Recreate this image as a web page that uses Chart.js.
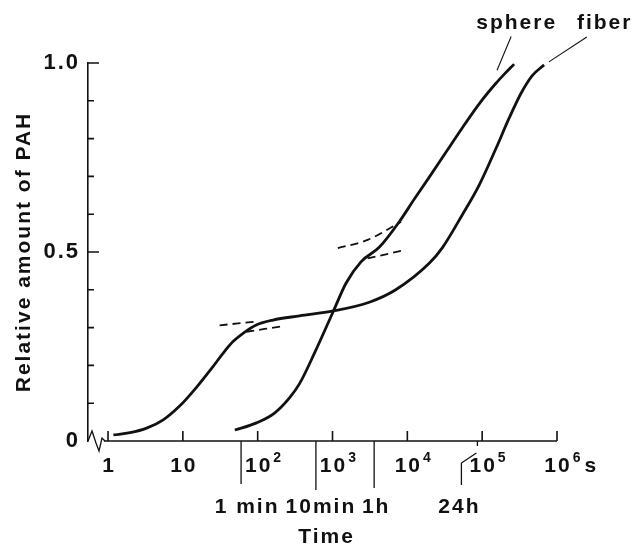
<!DOCTYPE html>
<html>
<head>
<meta charset="utf-8">
<script src="https://cdn.jsdelivr.net/npm/chart.js@4.4.1/dist/chart.umd.min.js"></script>
<style>
  html, body { margin: 0; padding: 0; background: #fff; }
  #wrap { width: 636px; height: 545px; }
</style>
</head>
<body>
<div id="wrap"><canvas id="chart" width="636" height="545"></canvas></div>
<script>
// time in seconds (log axis) vs relative amount of PAH
const fiberTime  = [1.18, 1.97, 3.28, 5.47, 9.12, 15.2, 25.3, 34.4, 46.8, 63.7, 95.9, 160, 362, 1030, 3100, 7000, 19600, 29300, 54100, 91200, 153800, 229000, 331000, 464000, 671000];
const fiberValue = [0.016, 0.022, 0.034, 0.056, 0.093, 0.142, 0.197, 0.232, 0.263, 0.285, 0.307, 0.32, 0.331, 0.344, 0.367, 0.40, 0.47, 0.511, 0.598, 0.677, 0.775, 0.854, 0.92, 0.966, 0.995];

const sphereTime  = [49.5, 96.6, 168, 266, 361, 576, 1030, 1520, 2400, 4240, 7800, 12400, 19650, 33100, 54100, 91200, 153800, 196500, 267000];
const sphereValue = [0.029, 0.048, 0.074, 0.114, 0.151, 0.233, 0.344, 0.418, 0.474, 0.513, 0.58, 0.64, 0.698, 0.765, 0.828, 0.892, 0.947, 0.97, 0.997];

// dashed tangent extensions at the two bends
const fiberPlateauTime = [31, 96],       fiberPlateauValue = [0.306, 0.316];
const fiberRiseTime    = [70.5, 218],    fiberRiseValue    = [0.289, 0.304];
const sphereUpperTime  = [1180, 2950, 8260], sphereUpperValue = [0.51, 0.532, 0.58];
const sphereLowerTime  = [2950, 9100],   sphereLowerValue  = [0.483, 0.505];

const decadeTicks = [1, 10, 100, 1000, 1e4, 1e5, 1e6];
const decadeBase  = ['1', '10', '10', '10', '10', '10', '10'];
const decadeExp   = ['', '', '2', '3', '4', '5', '6'];
const decadeUnit  = ['', '', '', '', '', '', 's'];

const yTicks = [0, 0.5, 1.0];
const yTickLabels = ['0', '0.5', '1.0'];
const yMinorTicks = [0.1, 0.2, 0.3, 0.4, 0.6, 0.7, 0.8, 0.9];

const timeMarks = [60, 600, 3600, 86400];
const timeMarkLabels = ['1 min', '10min', '1h', '24h'];

const ink = '#111';
const fam = '"Liberation Sans", Arial, sans-serif';
const mainFont = 'bold 21px ' + fam;
const supFont = 'bold 14px ' + fam;

const pts = (xs, ys) => xs.map((t, i) => ({x: t, y: ys[i]}));

function solid(data) {
  return { data, borderColor: ink, borderWidth: 2.8, pointRadius: 0,
           showLine: true, cubicInterpolationMode: 'monotone', clip: false };
}
function dashed(data) {
  return { data, borderColor: ink, borderWidth: 1.8, borderDash: [8, 5], pointRadius: 0,
           showLine: true, tension: 0.3, clip: false };
}

const annotate = {
  id: 'annotate',
  beforeDraw(chart) { chart.ctx.letterSpacing = '2px'; },
  afterDraw(chart) {
    const {ctx, chartArea: a, scales: {x, y}} = chart;
    const y0 = y.getPixelForValue(0);
    ctx.save();
    ctx.letterSpacing = '2px';
    ctx.strokeStyle = ink;
    ctx.fillStyle = ink;
    ctx.lineWidth = 1.6;

    // x axis line after the break, ticks pointing inward
    ctx.beginPath();
    ctx.moveTo(x.getPixelForValue(0.88), y0);
    ctx.lineTo(x.getPixelForValue(1e6), y0);
    decadeTicks.forEach(v => {
      const px = x.getPixelForValue(v);
      ctx.moveTo(px, y0); ctx.lineTo(px, y0 - 10);
    });
    yMinorTicks.forEach(v => {
      const py = y.getPixelForValue(v);
      ctx.moveTo(a.left, py); ctx.lineTo(a.left + 6, py);
    });
    [0.5, 1.0].forEach(v => {
      const py = y.getPixelForValue(v);
      ctx.moveTo(a.left, py); ctx.lineTo(a.left + 11, py);
    });
    ctx.stroke();

    // axis break mark
    ctx.lineWidth = 1.3;
    ctx.beginPath();
    [[0, 0], [4, -10], [8, 2], [11, 10], [14, -3], [17, 0]].forEach(([dx, dy], i) => {
      if (i === 0) ctx.moveTo(a.left + dx, y0 + dy); else ctx.lineTo(a.left + dx, y0 + dy);
    });
    ctx.stroke();

    // decade labels with exponents
    ctx.textBaseline = 'alphabetic';
    ctx.textAlign = 'left';
    decadeTicks.forEach((v, i) => {
      const px = x.getPixelForValue(v);
      ctx.font = mainFont;
      const w = ctx.measureText(decadeBase[i]).width;
      const left = px - (w - 2) / 2;
      ctx.fillText(decadeBase[i], left, y0 + 31);
      let cx = left + w + 1;
      if (decadeExp[i]) {
        ctx.font = supFont;
        ctx.fillText(decadeExp[i], cx, y0 + 21);
        cx += ctx.measureText(decadeExp[i]).width + 2;
      }
      if (decadeUnit[i]) {
        ctx.font = mainFont;
        ctx.fillText(decadeUnit[i], cx, y0 + 31);
      }
    });

    // clock-time marks below the axis
    ctx.lineWidth = 1.3;
    const markDepth = [43, 49, 47, 44];
    const labelShift = [5, 4, 1, -19];
    ctx.beginPath();
    timeMarks.forEach((t, i) => {
      const px = x.getPixelForValue(t);
      if (i === 3) {
        ctx.moveTo(px, y0); ctx.lineTo(px, y0 + 5);
        ctx.moveTo(px - 1, y0 + 12); ctx.lineTo(px - 16, y0 + 22); ctx.lineTo(px - 16, y0 + markDepth[i]);
      } else {
        ctx.moveTo(px, y0); ctx.lineTo(px, y0 + markDepth[i]);
      }
    });
    ctx.stroke();
    ctx.font = mainFont;
    ctx.textAlign = 'center';
    timeMarks.forEach((t, i) => {
      const px = x.getPixelForValue(t);
      ctx.fillText(timeMarkLabels[i], px + labelShift[i] + 1, y0 + 72);
    });

    // axis titles
    ctx.textBaseline = 'middle';
    ctx.fillText('Time', (a.left + a.right) / 2 + 4, y0 + 96);
    ctx.save();
    ctx.translate(24, (a.top + a.bottom) / 2);
    ctx.rotate(-Math.PI / 2);
    ctx.fillText('Relative amount of PAH', 0, 0);
    ctx.restore();

    // curve labels with leader lines (anchors in data units)
    const tags = [
      {text: 'sphere', at: [2.8e5, 1.09], from: [2.44e5, 1.07], to: [1.58e5, 0.981]},
      {text: 'fiber',  at: [4.2e6, 1.09], from: [2.5e6, 1.069], to: [7.8e5, 1.003]}
    ];
    ctx.textBaseline = 'alphabetic';
    ctx.lineWidth = 1.1;
    tags.forEach(tg => {
      ctx.fillText(tg.text, x.getPixelForValue(tg.at[0]) + 1, y.getPixelForValue(tg.at[1]));
      ctx.beginPath();
      ctx.moveTo(x.getPixelForValue(tg.from[0]), y.getPixelForValue(tg.from[1]));
      ctx.lineTo(x.getPixelForValue(tg.to[0]), y.getPixelForValue(tg.to[1]));
      ctx.stroke();
    });
    ctx.restore();
  }
};

new Chart(document.getElementById('chart'), {
  type: 'scatter',
  data: {
    datasets: [
      solid(pts(fiberTime, fiberValue)),
      solid(pts(sphereTime, sphereValue)),
      dashed(pts(fiberPlateauTime, fiberPlateauValue)),
      dashed(pts(fiberRiseTime, fiberRiseValue)),
      dashed(pts(sphereUpperTime, sphereUpperValue)),
      dashed(pts(sphereLowerTime, sphereLowerValue))
    ]
  },
  options: {
    responsive: false,
    animation: false,
    devicePixelRatio: 1,
    layout: { padding: { top: 63, right: 79, bottom: 0, left: 0 } },
    plugins: { legend: { display: false }, tooltip: { enabled: false } },
    scales: {
      x: {
        type: 'logarithmic',
        min: 0.54, max: 1e6,
        afterFit: s => { s.height = 104; },
        afterBuildTicks: s => { s.ticks = decadeTicks.map(v => ({value: v})); },
        ticks: { display: false },
        grid: { display: false },
        border: { display: false }
      },
      y: {
        min: 0, max: 1,
        afterFit: s => { s.width = 88; },
        afterBuildTicks: s => { s.ticks = yTicks.map(v => ({value: v})); },
        ticks: {
          color: ink,
          padding: 0,
          font: { family: fam, size: 22, weight: 'bold' },
          callback: v => yTickLabels[yTicks.indexOf(v)]
        },
        grid: { display: false },
        border: { display: true, color: ink, width: 1.6 }
      }
    }
  },
  plugins: [annotate]
});
</script>
</body>
</html>
